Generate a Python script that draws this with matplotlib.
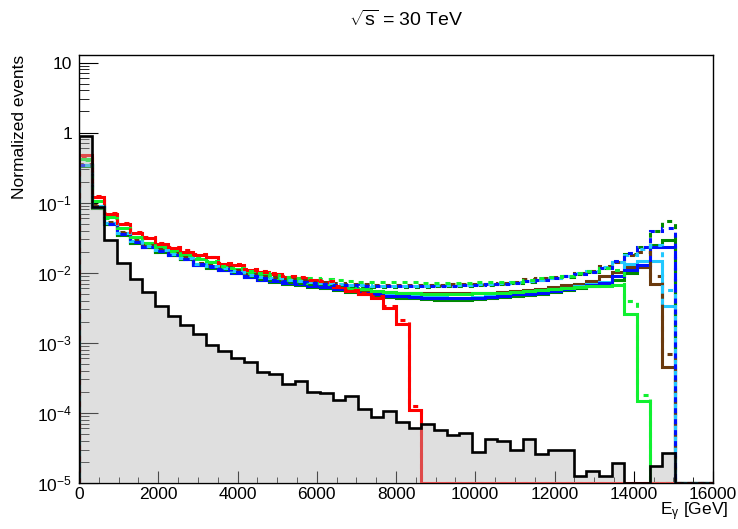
import numpy as np
import matplotlib
matplotlib.use('Agg')
import matplotlib.pyplot as plt
from matplotlib.ticker import MultipleLocator, LogLocator, NullFormatter

# E_gamma binning: 50 bins of 320 GeV between 0 and 16000 GeV
bin_edges = np.linspace(0, 16000, 51)

# background (black, grey filled)
bkg = [0.89, 0.087, 0.029, 0.0138, 0.0081, 0.0054, 0.0033, 0.00245, 0.0018, 0.00135,
       0.00093, 0.00076, 0.0006, 0.00054, 0.00038, 0.00036, 0.00026, 0.00029, 0.0002, 0.00019,
       0.000155, 0.000175, 0.000112, 8.7e-5, 1.05e-4, 7.5e-5, 6.0e-5, 6.9e-5, 5.7e-5, 4.9e-5,
       5.1e-5, 2.8e-5, 4.2e-5, 4.0e-5, 2.95e-5, 4.2e-5, 2.6e-5, 3.0e-5, 3.0e-5, 1.26e-5,
       1.48e-5, 1.26e-5, 1.9e-5, 0, 0, 1.74e-5, 2.7e-5, 0, 0, 0]

# signal samples, solid and dashed versions
red_solid = [0.48, 0.12, 0.070, 0.049, 0.037, 0.031, 0.026, 0.0224, 0.020, 0.0178,
             0.0166, 0.0135, 0.0129, 0.011, 0.0102, 0.0095, 0.0087, 0.0085, 0.0078, 0.0074,
             0.0062, 0.0055, 0.0050, 0.0044, 0.0031, 0.00186, 0.00011, 0, 0, 0,
             0, 0, 0, 0, 0, 0, 0, 0, 0, 0,
             0, 0, 0, 0, 0, 0, 0, 0, 0, 0]
red_dashed = [0.46, 0.125, 0.072, 0.051, 0.038, 0.032, 0.027, 0.023, 0.021, 0.0185,
              0.017, 0.014, 0.0133, 0.0115, 0.0105, 0.0098, 0.009, 0.0087, 0.008, 0.0076,
              0.0064, 0.0057, 0.0052, 0.0046, 0.0033, 0.0021, 0.000125, 0, 0, 0,
              0, 0, 0, 0, 0, 0, 0, 0, 0, 0,
              0, 0, 0, 0, 0, 0, 0, 0, 0, 0]
lime_solid = [0.42, 0.106, 0.062, 0.043, 0.032, 0.027, 0.0234, 0.0204, 0.0178, 0.0158,
              0.0141, 0.012, 0.0112, 0.010, 0.0093, 0.0085, 0.0079, 0.0076, 0.0071, 0.0068,
              0.0063, 0.006, 0.0058, 0.0055, 0.0054, 0.0052, 0.0051, 0.0050, 0.0050, 0.0050,
              0.0050, 0.0051, 0.0051, 0.0052, 0.0054, 0.0055, 0.0056, 0.0058, 0.0060, 0.0062,
              0.0064, 0.0065, 0.0066, 0.0026, 0.00015, 0, 0, 0, 0, 0]
lime_dashed = [0.41, 0.104, 0.061, 0.043, 0.032, 0.027, 0.0236, 0.0206, 0.018, 0.016,
               0.0145, 0.0125, 0.0117, 0.0106, 0.0099, 0.0092, 0.0087, 0.0085, 0.0083, 0.0082,
               0.0078, 0.0076, 0.0075, 0.0074, 0.0073, 0.0073, 0.0073, 0.0072, 0.0072, 0.0072,
               0.0072, 0.0073, 0.0074, 0.0074, 0.0073, 0.0079, 0.0083, 0.0087, 0.0091, 0.010,
               0.0107, 0.0118, 0.011, 0.0039, 0.00018, 0, 0, 0, 0, 0]
blue_solid = [0.34, 0.087, 0.050, 0.0355, 0.0275, 0.0234, 0.0204, 0.0182, 0.0158, 0.0129,
              0.012, 0.011, 0.010, 0.0087, 0.0079, 0.0076, 0.0071, 0.0068, 0.0065, 0.0062,
              0.0059, 0.0055, 0.0051, 0.0049, 0.0047, 0.0046, 0.0045, 0.0044, 0.0044, 0.0043,
              0.0043, 0.0044, 0.0045, 0.0047, 0.0049, 0.0050, 0.0051, 0.0055, 0.0059, 0.0063,
              0.0066, 0.0071, 0.0089, 0.011, 0.0129, 0.0234, 0.0234, 0, 0, 0]
blue_dashed = [0.34, 0.087, 0.050, 0.0355, 0.0275, 0.0234, 0.0204, 0.0182, 0.0158, 0.0132,
               0.0123, 0.0113, 0.0103, 0.0091, 0.0083, 0.008, 0.0076, 0.0073, 0.0071, 0.0069,
               0.0067, 0.0066, 0.0065, 0.0064, 0.0064, 0.0064, 0.0064, 0.0064, 0.0065, 0.0065,
               0.0066, 0.0067, 0.0068, 0.007, 0.0072, 0.0076, 0.0079, 0.0084, 0.0089, 0.0097,
               0.0104, 0.0118, 0.0145, 0.019, 0.0234, 0.040, 0.044, 0, 0, 0]
dgreen_solid = [0.33, 0.085, 0.049, 0.035, 0.027, 0.023, 0.020, 0.0178, 0.0155, 0.013,
                0.0118, 0.0108, 0.0098, 0.0086, 0.0078, 0.0074, 0.007, 0.0066, 0.0063, 0.006,
                0.0057, 0.0053, 0.005, 0.0047, 0.0045, 0.0044, 0.0043, 0.0042, 0.0041, 0.0041,
                0.0041, 0.0042, 0.0043, 0.0045, 0.0047, 0.0048, 0.005, 0.0053, 0.0057, 0.006,
                0.0064, 0.0068, 0.0079, 0.010, 0.012, 0.0245, 0.029, 0, 0, 0]
dgreen_dashed = [0.33, 0.085, 0.049, 0.035, 0.027, 0.023, 0.020, 0.0178, 0.0155, 0.0132,
                 0.0122, 0.0112, 0.0102, 0.009, 0.0082, 0.0079, 0.0075, 0.0072, 0.007, 0.0068,
                 0.0066, 0.0065, 0.0064, 0.0063, 0.0063, 0.0063, 0.0063, 0.0063, 0.0064, 0.0064,
                 0.0065, 0.0066, 0.0067, 0.0069, 0.0071, 0.0075, 0.0078, 0.0083, 0.0088, 0.0096,
                 0.0103, 0.0117, 0.0141, 0.0186, 0.0234, 0.040, 0.055, 0, 0, 0]
cyan_solid = [0.34, 0.088, 0.051, 0.036, 0.028, 0.0236, 0.0205, 0.0183, 0.016, 0.013,
              0.0121, 0.0111, 0.0101, 0.0088, 0.008, 0.0077, 0.0072, 0.0069, 0.0066, 0.0063,
              0.006, 0.0056, 0.0052, 0.005, 0.0048, 0.0047, 0.0046, 0.0045, 0.0045, 0.0044,
              0.0044, 0.0045, 0.0046, 0.0048, 0.005, 0.0051, 0.0053, 0.0057, 0.0061, 0.0065,
              0.0069, 0.0075, 0.0089, 0.0135, 0.0145, 0.0148, 0.0034, 0, 0, 0]
cyan_dashed = [0.35, 0.089, 0.052, 0.037, 0.028, 0.024, 0.021, 0.0187, 0.0163, 0.0135,
               0.0125, 0.0116, 0.0106, 0.0094, 0.0086, 0.0083, 0.0079, 0.0076, 0.0073, 0.0071,
               0.0069, 0.0067, 0.0066, 0.0065, 0.0065, 0.0065, 0.0065, 0.0065, 0.0066, 0.0066,
               0.0067, 0.0068, 0.0069, 0.0071, 0.0073, 0.0077, 0.008, 0.0085, 0.009, 0.0098,
               0.0105, 0.012, 0.0141, 0.0182, 0.0219, 0.0245, 0.0056, 0, 0, 0]
brown_solid = [0.35, 0.09, 0.052, 0.037, 0.028, 0.024, 0.021, 0.0185, 0.0162, 0.0132,
               0.0123, 0.0113, 0.0103, 0.009, 0.0082, 0.0079, 0.0074, 0.0071, 0.0068, 0.0065,
               0.0062, 0.0058, 0.0055, 0.0053, 0.0052, 0.0052, 0.0052, 0.0052, 0.0052, 0.0052,
               0.0052, 0.0052, 0.0052, 0.0053, 0.0055, 0.0057, 0.0059, 0.0062, 0.0066, 0.007,
               0.0076, 0.0089, 0.0102, 0.012, 0.012, 0.0069, 0.00045, 0, 0, 0]
brown_dashed = [0.36, 0.092, 0.053, 0.038, 0.029, 0.025, 0.0215, 0.019, 0.0168, 0.014,
                0.013, 0.012, 0.011, 0.0097, 0.0089, 0.0086, 0.0081, 0.0078, 0.0075, 0.0073,
                0.0071, 0.0069, 0.0068, 0.0067, 0.0067, 0.0067, 0.0067, 0.0067, 0.0067, 0.0068,
                0.0068, 0.0069, 0.007, 0.0072, 0.0074, 0.0081, 0.0083, 0.0087, 0.0091, 0.010,
                0.0107, 0.0123, 0.0141, 0.0178, 0.020, 0.0089, 0.0007, 0, 0, 0]

# drawing order: solid histograms first, dashed ones on top
signals = [
    (dgreen_solid, '#008a00', 'solid', 0), (brown_solid, '#6b3a0e', 'solid', 0),
    (cyan_solid, '#22c8ff', 'solid', 0), (blue_solid, '#0010ff', 'solid', 0),
    (lime_solid, '#10f030', 'solid', 0), (red_solid, '#ff0000', 'solid', 0),
    (dgreen_dashed, '#008a00', 'dashed', 4), (brown_dashed, '#6b3a0e', 'dashed', 0),
    (cyan_dashed, '#22c8ff', 'dashed', 4), (blue_dashed, '#0010ff', 'dashed', 0),
    (lime_dashed, '#10f030', 'dashed', 0), (red_dashed, '#ff0000', 'dashed', 0),
]

Y_MIN = 1e-5
Y_MAX = 12.8

plt.rcParams['font.family'] = ['Liberation Sans', 'DejaVu Sans']
plt.rcParams['mathtext.fontset'] = 'custom'
plt.rcParams['mathtext.rm'] = 'Liberation Sans'
plt.rcParams['mathtext.it'] = 'Liberation Sans:italic'
plt.rcParams['lines.scale_dashes'] = False

fig = plt.figure(figsize=(7.38, 5.29), dpi=100)
ax = fig.add_axes([79/738, 1 - 483/529, 634/738, 428/529])
ax.set_yscale('log')
ax.set_xlim(0, 16000)
ax.set_ylim(Y_MIN, Y_MAX)

for i, (vals, col, style, phase) in enumerate(signals):
    v = np.where(np.array(vals) > 0, vals, Y_MIN)  # ROOT draws empty bins on the frame
    ls = '-' if style == 'solid' else (phase, (3.6, 4.3))
    ax.stairs(v, bin_edges, baseline=Y_MIN, color=col, lw=2.2, linestyle=ls, zorder=3 + i * 0.1)

b = np.where(np.array(bkg) > 0, bkg, Y_MIN)
ax.stairs(b, bin_edges, baseline=Y_MIN, fill=True, facecolor=(0.7, 0.7, 0.7),
          alpha=0.42, edgecolor='none', zorder=6)
ax.stairs(b, bin_edges, baseline=Y_MIN, color='black', lw=1.9, zorder=7)

# ROOT-like axes
ax.tick_params(which='both', direction='in', top=False, right=False, labelsize=12.5)
ax.xaxis.set_major_locator(MultipleLocator(2000))
ax.xaxis.set_minor_locator(MultipleLocator(500))
ax.tick_params(axis='x', which='major', length=9, pad=3)
ax.tick_params(axis='x', which='minor', length=4.5)
ax.set_yticks([1e-5, 1e-4, 1e-3, 1e-2, 1e-1, 1, 10])
ax.set_yticklabels(['$10^{-5}$', '$10^{-4}$', '$10^{-3}$', '$10^{-2}$', '$10^{-1}$', '1', '10'])
ax.yaxis.set_minor_locator(LogLocator(base=10, subs=np.arange(2, 10), numticks=20))
ax.yaxis.set_minor_formatter(NullFormatter())
ax.tick_params(axis='y', which='major', length=14, pad=5)
ax.tick_params(axis='y', which='minor', length=7)
for sp in ax.spines.values():
    sp.set_linewidth(1.0)

fig.text(406/738, 1 - 20/529, r'$\sqrt{\mathrm{s}}$ = 30 TeV', ha='center', va='center', fontsize=14)
fig.text(20/738, 1 - 55/529, 'Normalized events', rotation=90, ha='center', va='top', fontsize=12.5)
fig.text(728/738, 1 - 512/529, r'E$_{\mathrm{\gamma}}$ [GeV]', ha='right', va='center', fontsize=12.5)

fig.savefig('out.png', dpi=100)
